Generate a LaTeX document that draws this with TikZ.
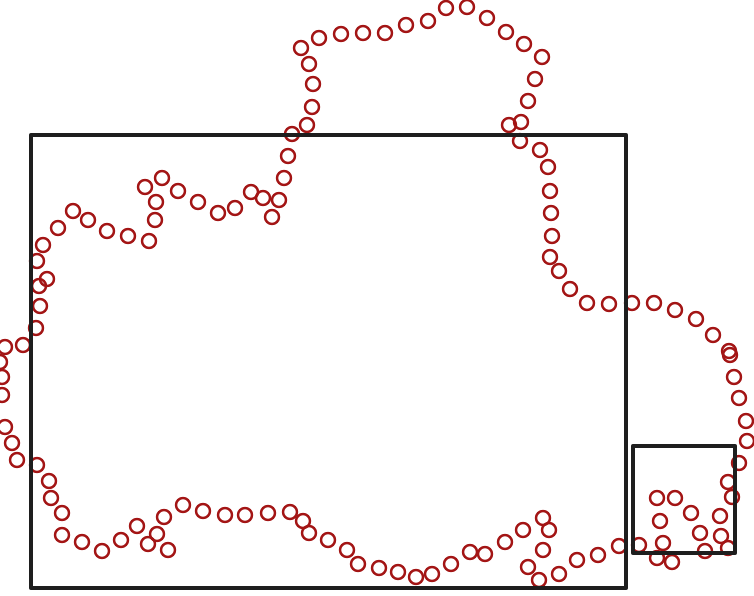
\documentclass[tikz,border=0pt]{standalone}
\usepackage{xcolor}
\usepackage{tikz}
\definecolor{ringred}{HTML}{A31515}
\definecolor{framegray}{HTML}{1e1e1e}

\begin{document}
\begin{tikzpicture}[
  x=1pt, y=-1pt,
  ring/.style={circle, draw=ringred, line width=2.4pt, minimum size=14pt, inner sep=0pt},
  frame/.style={draw=framegray, line width=4.4pt, line join=round},
]
  \useasboundingbox (0,0) rectangle (754,596);
  % rings along the outline
  \foreach \x/\y [count=\i] in {
    36/328, 40/306, 39/286, 47/279, 37/261, 43/245, 58/228, 73/211, 88/220,
    107/231, 128/236, 149/241, 155/220, 156/202, 145/187, 162/178, 178/191,
    198/202, 218/213, 235/208, 251/192, 263/198, 279/200, 272/217, 284/178,
    288/156, 292/134, 307/125, 312/107, 313/84, 309/64, 301/48, 319/38,
    341/34, 363/33, 385/33, 406/25, 428/21, 446/8, 467/7, 487/18, 506/32,
    524/44, 542/57, 535/79, 528/101, 521/122, 509/125, 520/141, 540/150,
    548/167, 550/191, 551/213, 552/236, 550/257, 559/271, 570/289, 587/303,
    609/304, 632/303, 654/303, 675/310, 696/319, 713/335, 729/351, 730/355,
    734/377, 739/398, 746/421, 747/441, 739/463, 728/482, 732/497, 720/516,
    721/536, 728/548, 705/551, 700/533, 691/513, 675/498, 657/498, 660/521,
    663/543, 672/562, 657/558, 639/545, 619/546, 598/555, 577/560, 559/574,
    539/580, 528/567, 543/550, 549/530, 543/518, 523/530, 505/542, 485/554,
    470/552, 451/564, 432/574, 416/577, 398/572, 379/568, 358/564, 347/550,
    328/540, 309/533, 303/521, 290/512, 268/513, 245/515, 225/515, 203/511,
    183/505, 164/517, 157/534, 168/550, 148/544, 137/526, 121/540, 102/551,
    82/542, 62/535, 62/513, 51/498, 49/481, 37/465, 17/460, 12/443, 5/427,
    2/395, 2/377, 0/362, 5/347, 23/345}
    \node[ring] (r\i) at (\x,\y) {};
  % frames
  \draw[frame] (31,135) rectangle (626,588);
  \draw[frame] (633,446) rectangle (735,553);
\end{tikzpicture}
\end{document}
